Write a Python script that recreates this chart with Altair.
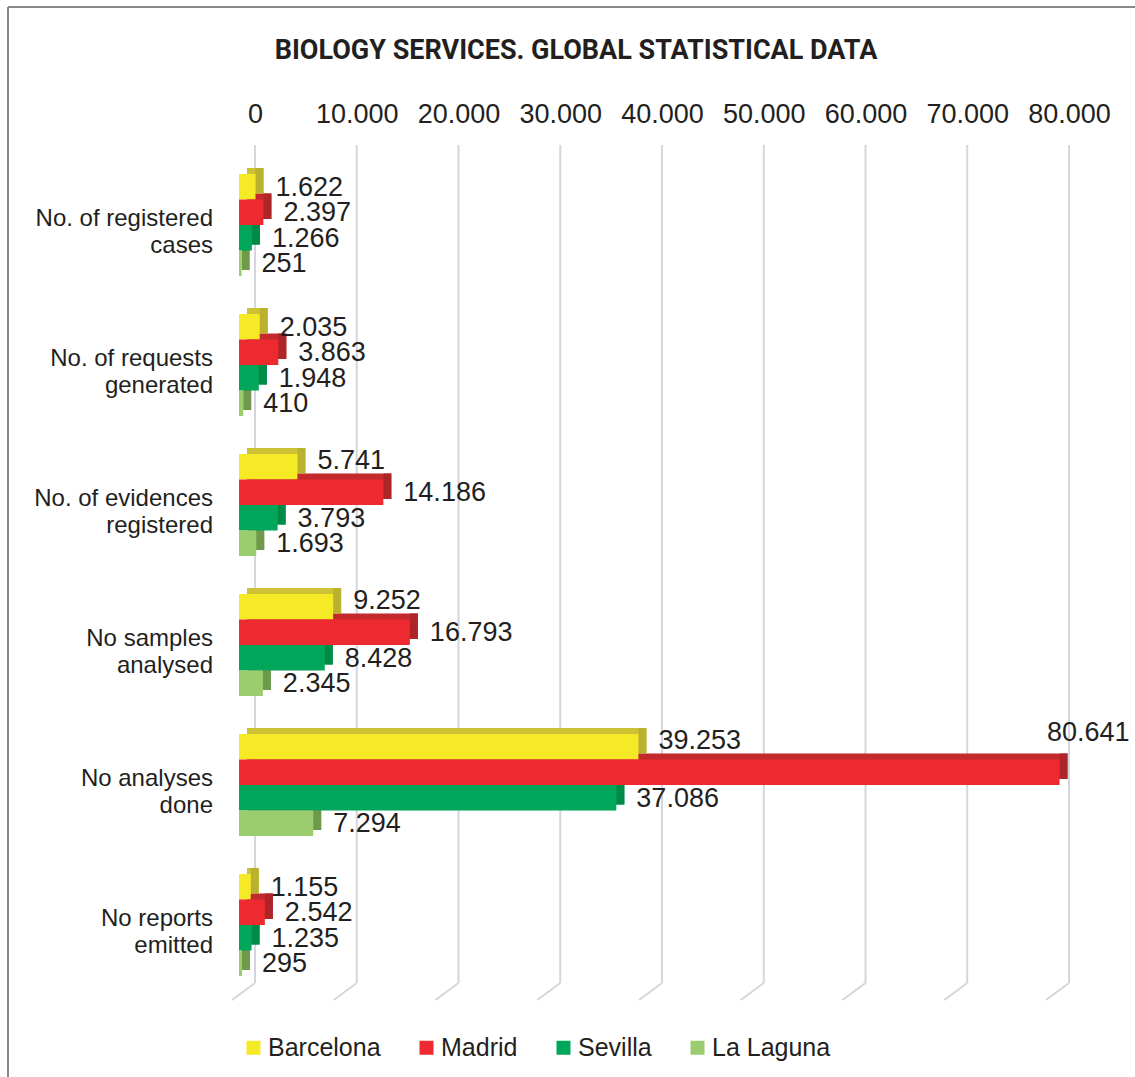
import altair as alt
import pandas as pd

chart_title = "BIOLOGY SERVICES. GLOBAL STATISTICAL DATA"
categories = [
    "No. of registered\ncases",
    "No. of requests\ngenerated",
    "No. of evidences\nregistered",
    "No samples\nanalysed",
    "No analyses\ndone",
    "No reports\nemitted",
]
cities = ["Barcelona", "Madrid", "Sevilla", "La Laguna"]
barcelona = [1622, 2035, 5741, 9252, 39253, 1155]
madrid = [2397, 3863, 14186, 16793, 80641, 2542]
sevilla = [1266, 1948, 3793, 8428, 37086, 1235]
la_laguna = [251, 410, 1693, 2345, 7294, 295]
ticks = [0, 10000, 20000, 30000, 40000, 50000, 60000, 70000, 80000]

front_colors = ["#f6e926", "#ec2a2f", "#00a65a", "#9bcc6e"]
top_colors = ["#cdc236", "#c4292d", "#009a50", "#86b55b"]
side_colors = ["#bab22e", "#ad2529", "#008a48", "#6f9a4c"]

series = [barcelona, madrid, sevilla, la_laguna]
rows = []
for ci, city in enumerate(cities):
    for k, cat in enumerate(categories):
        rows.append({"cat": cat, "city": city, "value": series[ci][k],
                     "top": top_colors[ci], "side": side_colors[ci]})
df = pd.DataFrame(rows)
tick_df = pd.DataFrame({"tick": ticks})
cat_df = pd.DataFrame({"cat": categories})
one = pd.DataFrame({"t": [chart_title]})

FONT = "Liberation Sans"
TXT = "#231f20"
GRID = "#d3d6dc"
NUM_SIZE = 27

xscale = alt.Scale(domain=[0, 80000], nice=False)
x_axis = alt.Axis(orient="top", title=None, grid=False, domain=False, ticks=False,
                  values=ticks, labelFont=FONT, labelFontSize=NUM_SIZE, labelColor=TXT,
                  labelPadding=27, labelOffset=16, labelOverlap=False, labelFlush=False,
                  labelExpr="replace(format(datum.value, ','), ',', '.')")

BAND = 0.729 * 140  # width of one category band in pixels


def yenc():
    return alt.Y("cat:N", sort=categories, axis=None,
                 scale=alt.Scale(domain=categories, paddingInner=0.271,
                                 paddingOuter=0.1357))


def yoff(shift=0):
    return alt.YOffset("city:N", sort=cities,
                       scale=alt.Scale(domain=cities, paddingInner=0, paddingOuter=0,
                                       range=[shift, BAND + shift]))


def yoff_text():
    return alt.YOffset("city:N", sort=cities,
                       scale=alt.Scale(type="point", domain=cities, padding=0.5,
                                       range=[0, BAND]))


grid_v = alt.Chart(tick_df).mark_rule(color=GRID, strokeWidth=2, xOffset=16).encode(
    x=alt.X("tick:Q", scale=xscale, axis=x_axis),
    y=alt.value(-10), y2=alt.value(828))
grid_d = alt.Chart(tick_df).mark_rule(color=GRID, strokeWidth=2, xOffset=16, x2Offset=-7).encode(
    x=alt.X("tick:Q", scale=xscale, axis=x_axis), x2="tick:Q",
    y=alt.value(828), y2=alt.value(845))

top_face = alt.Chart(df).mark_bar(xOffset=8, x2Offset=8).encode(
    x=alt.X("value:Q", scale=xscale, axis=x_axis), x2=alt.datum(0),
    y=yenc(), yOffset=yoff(-6), color=alt.Color("top:N", scale=None))
side_face = alt.Chart(df).mark_bar(xOffset=0, x2Offset=8).encode(
    x=alt.X("value:Q", scale=xscale, axis=x_axis), x2="value:Q",
    y=yenc(), yOffset=yoff(-6), color=alt.Color("side:N", scale=None))
front = alt.Chart(df).mark_bar().encode(
    x=alt.X("value:Q", scale=xscale, axis=x_axis),
    y=yenc(), yOffset=yoff(),
    color=alt.Color("city:N", sort=cities,
                    scale=alt.Scale(domain=cities, range=front_colors),
                    legend=alt.Legend(orient="none", legendX=2, legendY=880,
                                      direction="horizontal", title=None,
                                      symbolType="square", symbolSize=196,
                                      symbolStrokeWidth=0, labelFont=FONT,
                                      labelFontSize=25, labelColor=TXT,
                                      labelOffset=2, columnPadding=33,
                                      labelLimit=400)))

lab_expr = "replace(format(datum.value, ','), ',', '.')"


def label_layer(filt, **kw):
    return alt.Chart(df).transform_filter(filt).transform_calculate(
        lab=lab_expr).mark_text(baseline="middle", font=FONT, fontSize=NUM_SIZE,
                                color=TXT, **kw).encode(
        x=alt.X("value:Q", scale=xscale, axis=x_axis), y=yenc(), yOffset=yoff_text(),
        text="lab:N")


raised = "datum.city == 'Barcelona' && datum.value >= 5000"
labels = label_layer("datum.value < 80000 && !(" + raised + ")", align="left", dx=20, dy=1)
labels_up = label_layer(raised, align="left", dx=20, dy=-6)
labels_max = label_layer("datum.value >= 80000", align="right", dx=70, dy=-39)

cat_labels = alt.Chart(cat_df).mark_text(align="right", baseline="middle", lineBreak="\n",
                                         font=FONT, fontSize=24, lineHeight=27, dy=-6,
                                         color=TXT).encode(
    x=alt.value(-26), y=yenc(), text="cat:N")

title_mark = alt.Chart(one).mark_text(align="center", baseline="middle",
                                      font="Roboto", fontWeight="bold",
                                      fontSize=27, color=TXT).encode(
    x=alt.value(337), y=alt.value(-104), text="t:N")

border_l = alt.Chart(one).mark_rule(color="#888888", strokeWidth=2).encode(
    x=alt.value(-231), y=alt.value(-148), y2=alt.value(922))
border_t = alt.Chart(one).mark_rule(color="#888888", strokeWidth=2).encode(
    x=alt.value(-231), x2=alt.value(896), y=alt.value(-148))

chart = alt.layer(
    border_l, border_t, grid_v, grid_d, top_face, side_face, front,
    labels, labels_up, labels_max, cat_labels, title_mark
).resolve_scale(yOffset="independent").properties(
    width=814, height=840, autosize="none",
    padding={"left": 239, "top": 155, "right": 82, "bottom": 82}
).configure_view(stroke=None)

chart.save("out.html", embed_options={"renderer": "svg", "actions": False})
